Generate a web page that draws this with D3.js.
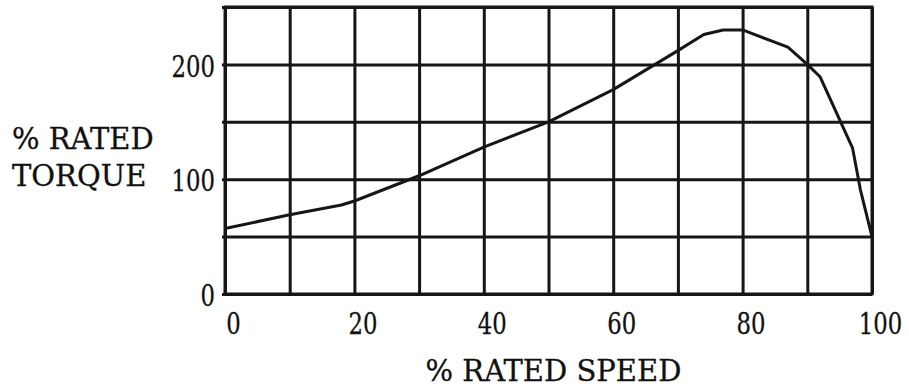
<!DOCTYPE html>
<html><head><meta charset="utf-8">
<script src="https://cdn.jsdelivr.net/npm/d3@7"></script>
<style>
html,body{margin:0;padding:0;background:#fff;}
</style></head>
<body><svg id="c" width="909" height="387"></svg>
<script>
const speed  = [0, 10, 18, 20, 30, 40, 50, 60, 70, 74, 77, 80, 87, 90, 92, 97, 98.2, 100];
const torque = [57, 69, 77.5, 81, 103, 128, 150, 178, 212, 226, 230, 230, 215, 200, 189, 127, 91, 50];
const xGrid = [0,10,20,30,40,50,60,70,80,90,100];
const yGrid = [0,50,100,150,200,250];
const xTickLabels = [0,20,40,60,80,100];
const yTickLabels = [0,100,200];
const xTitle = "% RATED SPEED";
const yTitle = ["% RATED", "TORQUE"];

const svg = d3.select("#c");
const L = 225, R = 872, T = 7, B = 294;
const x = d3.scaleLinear().domain([0,100]).range([L,R]);
const y = d3.scaleLinear().domain([0,250]).range([B,T]);
const ink = "#161616";
const FONT = "'DejaVu Serif'";
const K = 0.76; // horizontal squeeze for digits

const gx = svg.append("g").attr("transform",`translate(0,${B})`)
  .call(d3.axisBottom(x).tickValues(xGrid).tickSize(-(B-T)).tickSizeOuter(0).tickFormat(""));
gx.select(".domain").remove();
gx.selectAll("line").attr("stroke",ink).attr("stroke-width",3);

const gy = svg.append("g").attr("transform",`translate(${R},0)`)
  .call(d3.axisLeft(y).tickValues(yGrid).tickSize(R-L+3).tickSizeOuter(0).tickFormat(""));
gy.select(".domain").remove();
gy.selectAll("line").attr("stroke",ink).attr("stroke-width",3);

svg.append("rect").attr("x",L).attr("y",T).attr("width",R-L).attr("height",B-T)
  .attr("fill","none").attr("stroke",ink).attr("stroke-width",3);

const ax = svg.append("g").attr("transform",`translate(8,${B})`)
  .call(d3.axisBottom(x).tickValues(xTickLabels).tickSize(0).tickPadding(19).tickFormat(d3.format("d")));
ax.attr("font-family",null).attr("font-size",null);
ax.select(".domain").remove();
ax.selectAll("text").attr("fill","#111").attr("stroke","#111").attr("stroke-width",0.3)
  .style("font",`30px ${FONT}`).attr("transform",`scale(${K},1)`);

const ay = svg.append("g").attr("transform",`translate(${L},2)`)
  .call(d3.axisLeft(y).tickValues(yTickLabels).tickSize(0).tickPadding(9).tickFormat(d3.format("d")));
ay.attr("font-family",null).attr("font-size",null);
ay.select(".domain").remove();
ay.selectAll("text").attr("fill","#111").attr("stroke","#111").attr("stroke-width",0.3)
  .style("font",`30px ${FONT}`).attr("x",-10/K).attr("transform",`scale(${K},1)`);

svg.append("text").attr("x",(L+R)/2+5).attr("y",381).attr("text-anchor","middle")
  .attr("stroke","#111").attr("stroke-width",0.3)
  .style("font",`29px ${FONT}`).attr("fill","#111").text(xTitle);
svg.selectAll(".yt").data(yTitle).enter().append("text").attr("class","yt")
  .attr("stroke","#111").attr("stroke-width",0.3)
  .style("font",`29px ${FONT}`).attr("fill","#111")
  .attr("x",12).attr("y",(d,i)=>149+i*37).text(d=>d);

const pts = speed.map((s,i)=>[s,torque[i]]);
svg.append("path").datum(pts)
  .attr("d", d3.line().x(d=>x(d[0])).y(d=>y(d[1])).curve(d3.curveLinear))
  .attr("fill","none").attr("stroke",ink).attr("stroke-width",3).attr("stroke-linejoin","round");
</script></body></html>
